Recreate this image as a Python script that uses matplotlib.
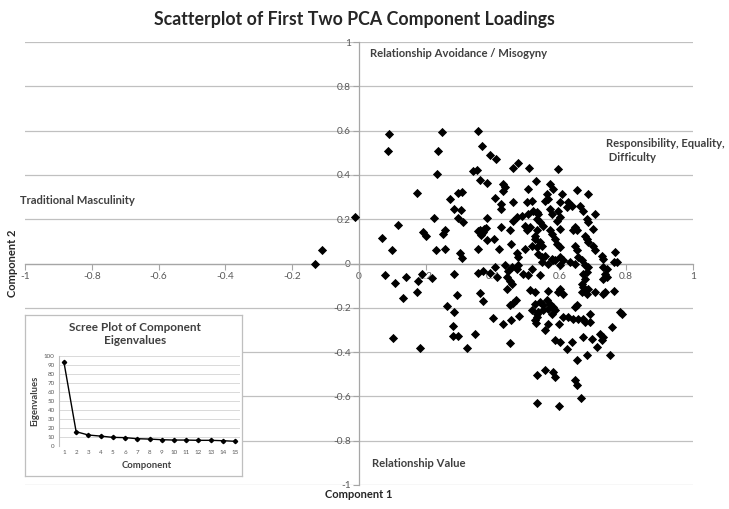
import matplotlib
matplotlib.use("Agg")
import matplotlib.pyplot as plt

plt.rcParams['font.family'] = ['Lato', 'DejaVu Sans']

# ---------------- data ----------------
comp1 = [
    -0.132, -0.111, -0.012,
    0.091, 0.086, 0.118, 0.070, 0.098,
    0.078, 0.108, 0.141, 0.178, 0.188, 0.173, 0.131, 0.103, 0.183,
    0.173, 0.193, 0.201,
    0.248, 0.237, 0.234, 0.357, 0.367, 0.392, 0.409, 0.342, 0.354, 0.362, 0.384, 0.460, 0.477, 0.510,
    0.530, 0.430, 0.437, 0.432, 0.505, 0.297, 0.307, 0.272, 0.407, 0.424, 0.424, 0.462, 0.502, 0.517,
    0.285, 0.305, 0.225, 0.297, 0.312, 0.384, 0.462, 0.472, 0.487, 0.507, 0.522, 0.532, 0.257, 0.251,
    0.356, 0.362, 0.368, 0.374, 0.380, 0.365, 0.372, 0.424, 0.452, 0.497, 0.502, 0.512, 0.532, 0.527,
    0.382, 0.405, 0.455, 0.231, 0.257, 0.357, 0.419, 0.474, 0.477, 0.497, 0.517, 0.532, 0.302, 0.309,
    0.597, 0.572, 0.582, 0.652, 0.687, 0.562, 0.557, 0.567, 0.607, 0.602, 0.627, 0.637, 0.622, 0.662,
    0.672, 0.537, 0.532, 0.572, 0.577, 0.597, 0.602, 0.592, 0.707, 0.682, 0.687, 0.542, 0.552, 0.572,
    0.577, 0.602, 0.647, 0.652, 0.642, 0.702, 0.677, 0.682, 0.687, 0.527, 0.542, 0.547, 0.587, 0.592,
    0.602, 0.647, 0.652, 0.702, 0.707, 0.727, 0.732, 0.766, 0.772, 0.537, 0.547, 0.557, 0.577, 0.587,
    0.602, 0.612, 0.657, 0.667, 0.632,
    0.218, 0.283, 0.357, 0.372, 0.392, 0.407, 0.412, 0.437, 0.447, 0.457, 0.472, 0.477, 0.442, 0.452,
    0.457, 0.442, 0.492, 0.507, 0.517, 0.512, 0.527, 0.292, 0.362, 0.372, 0.452, 0.462, 0.470, 0.264,
    0.283, 0.402, 0.432, 0.455, 0.480, 0.517, 0.532, 0.530, 0.280, 0.280, 0.297, 0.347, 0.324, 0.452,
    0.532, 0.532,
    0.547, 0.567, 0.582, 0.602, 0.647, 0.677, 0.687, 0.732, 0.742, 0.762, 0.542, 0.672, 0.677, 0.682,
    0.737, 0.742, 0.732, 0.602, 0.612, 0.597, 0.567, 0.667, 0.672, 0.677, 0.687, 0.667, 0.682, 0.707,
    0.732, 0.737, 0.762, 0.527, 0.542, 0.552, 0.562, 0.572, 0.582, 0.587, 0.567, 0.552, 0.537, 0.577,
    0.527, 0.532, 0.647, 0.652, 0.612, 0.627, 0.642, 0.657, 0.672, 0.677, 0.692, 0.692, 0.781, 0.787,
    0.567, 0.599, 0.757, 0.722, 0.732, 0.727, 0.587, 0.602, 0.637, 0.622, 0.672, 0.697, 0.712, 0.751,
    0.684, 0.654, 0.557, 0.582, 0.587, 0.647, 0.652, 0.664, 0.599, 0.557,
]
comp2 = [
    0.000, 0.063, 0.209,
    0.584, 0.509, 0.176, 0.114, 0.060,
    -0.051, -0.089, -0.059, -0.077, -0.047, -0.129, -0.156, -0.335, -0.380,
    0.318, 0.141, 0.122,
    0.595, 0.506, 0.404, 0.599, 0.532, 0.490, 0.472, 0.416, 0.422, 0.378, 0.362, 0.429, 0.454, 0.429,
    0.371, 0.359, 0.344, 0.329, 0.336, 0.317, 0.321, 0.291, 0.296, 0.269, 0.246, 0.279, 0.276, 0.284,
    0.246, 0.242, 0.204, 0.204, 0.186, 0.204, 0.194, 0.212, 0.216, 0.224, 0.239, 0.231, 0.152, 0.134,
    0.148, 0.150, 0.138, 0.155, 0.162, 0.128, 0.140, 0.167, 0.149, 0.171, 0.149, 0.164, 0.149, 0.126,
    0.108, 0.111, 0.086, 0.063, 0.066, 0.066, 0.066, 0.046, 0.028, 0.066, 0.081, 0.073, 0.046, 0.026,
    0.426, 0.359, 0.336, 0.332, 0.314, 0.314, 0.284, 0.291, 0.314, 0.276, 0.276, 0.261, 0.254, 0.261,
    0.239, 0.224, 0.201, 0.246, 0.224, 0.239, 0.209, 0.194, 0.224, 0.201, 0.186, 0.186, 0.171, 0.149,
    0.134, 0.156, 0.164, 0.149, 0.152, 0.156, 0.126, 0.111, 0.096, 0.111, 0.096, 0.081, 0.111, 0.089,
    0.073, 0.081, 0.059, 0.077, 0.059, 0.036, 0.021, 0.051, 0.006, 0.044, 0.028, 0.036, 0.021, 0.014,
    0.028, 0.014, 0.028, 0.014, 0.006,
    -0.065, -0.047, -0.044, -0.032, -0.044, -0.014, -0.059, -0.009, -0.032, -0.017, -0.024, -0.009, -0.062, -0.080,
    -0.092, -0.114, -0.047, -0.054, -0.024, -0.119, -0.129, -0.140, -0.134, -0.170, -0.189, -0.179, -0.167, -0.194,
    -0.219, -0.245, -0.272, -0.254, -0.239, -0.209, -0.227, -0.269, -0.282, -0.329, -0.326, -0.320, -0.380, -0.359,
    -0.502, -0.632,
    0.006, -0.002, 0.014, -0.009, -0.002, -0.009, -0.017, -0.017, -0.024, 0.006, -0.054, -0.047, -0.069, -0.039,
    -0.047, -0.062, -0.069, -0.114, -0.137, -0.129, -0.122, -0.092, -0.107, -0.122, -0.114, -0.129, -0.137, -0.129,
    -0.137, -0.129, -0.125, -0.182, -0.174, -0.189, -0.167, -0.182, -0.197, -0.212, -0.204, -0.212, -0.219, -0.227,
    -0.257, -0.242, -0.197, -0.189, -0.242, -0.242, -0.249, -0.249, -0.249, -0.264, -0.264, -0.227, -0.219, -0.227,
    -0.272, -0.272, -0.287, -0.317, -0.332, -0.347, -0.347, -0.354, -0.354, -0.384, -0.332, -0.339, -0.377, -0.414,
    -0.411, -0.434, -0.482, -0.489, -0.512, -0.527, -0.549, -0.605, -0.644, -0.300,
]

x_ticks = [-1, -0.8, -0.6, -0.4, -0.2, 0, 0.2, 0.4, 0.6, 0.8, 1]
x_tick_labels = ['-1', '-0.8', '-0.6', '-0.4', '-0.2', '0', '0.2', '0.4', '0.6', '0.8', '1']
y_ticks = [-1, -0.8, -0.6, -0.4, -0.2, 0, 0.2, 0.4, 0.6, 0.8, 1]
y_tick_labels = ['-1', '-0.8', '-0.6', '-0.4', '-0.2', '0', '0.2', '0.4', '0.6', '0.8', '1']

scree_components = list(range(1, 16))
scree_eigenvalues = [93.4, 15.9, 12.2, 11.0, 9.6, 9.3, 8.1, 7.7, 7.0, 6.6, 6.6, 6.3, 6.3, 5.9, 5.2]

title = 'Scatterplot of First Two PCA Component Loadings'
quadrant_labels = [
    ('Relationship Avoidance / Misogyny', 0.033, 0.946),
    ('Responsibility, Equality,\n Difficulty', 0.740, 0.510),
    ('Traditional Masculinity', -1.015, 0.284),
    ('Relationship Value', 0.039, -0.905),
]

# ---------------- figure ----------------
W, H = 729, 509
fig = plt.figure(figsize=(W / 100, H / 100), dpi=100)
fig.patch.set_facecolor('white')

def fx(px):
    return px / W

def fy(py):
    return 1 - py / H

axl, axr, axt, axb = 25, 693, 42, 485
ax = fig.add_axes([fx(axl), fy(axb), fx(axr - axl), (axb - axt) / H])
ax.set_xlim(-1, 1)
ax.set_ylim(-1, 1)
ax.set_facecolor('none')

for s in ['top', 'right']:
    ax.spines[s].set_visible(False)
ax.spines['left'].set_position(('data', 0))
ax.spines['bottom'].set_position(('data', 0))
for s in ['left', 'bottom']:
    ax.spines[s].set_color('#a6a6a6')
    ax.spines[s].set_linewidth(0.9)

ax.set_xticks(x_ticks)
ax.set_xticklabels(x_tick_labels)
ax.set_yticks(y_ticks)
ax.set_yticklabels(y_tick_labels)
ax.tick_params(axis='both', direction='out', length=4, width=0.8, color='#a6a6a6',
               labelsize=7.3, labelcolor='#595959', pad=2)
ax.yaxis.grid(True, color='#c0c0c0', linewidth=0.9)
ax.set_axisbelow(True)

ax.scatter(comp1, comp2, marker='D', s=22, color='black', linewidths=0, zorder=3)

for txt, x, y in quadrant_labels:
    ax.text(x, y, txt, fontsize=8.1, fontweight='bold', color='#404040',
            ha='left', va='center', linespacing=1.3)

fig.text(fx(354), fy(19), title, fontsize=12.8, fontweight='bold', color='#262626',
         ha='center', va='center')
fig.text(fx(13), fy(263), 'Component 2', rotation=90, fontsize=8, fontweight='bold',
         color='#262626', ha='center', va='center')
fig.text(fx(359), fy(495), 'Component 1', fontsize=8, fontweight='bold',
         color='#262626', ha='center', va='center')

# ---------------- inset scree plot ----------------
bl, br, bt, bb = 25, 242, 315, 476
box = fig.add_axes([fx(bl), fy(bb), fx(br - bl), (bb - bt) / H], zorder=2)
box.set_facecolor('white')
box.set_xticks([])
box.set_yticks([])
for s in box.spines.values():
    s.set_color('#bfbfbf')
    s.set_linewidth(0.9)

il, ir, it, ib = 59, 240, 356, 446
ins = fig.add_axes([fx(il), fy(ib), fx(ir - il), (ib - it) / H], zorder=3)
ins.set_facecolor('none')
ins.plot(scree_components, scree_eigenvalues, color='black', linewidth=1.0,
         marker='D', markersize=2.2)
ins.set_xlim(0.6, 15.4)
ins.set_ylim(0, 100)
ins.set_xticks(scree_components)
ins.set_yticks(range(0, 101, 10))
ins.tick_params(axis='both', length=0, labelsize=4.5, labelcolor='#595959', pad=3)
ins.yaxis.grid(True, color='#d9d9d9', linewidth=0.7)
ins.set_axisbelow(True)
for s in ['top', 'right', 'bottom']:
    ins.spines[s].set_visible(False)
ins.spines['left'].set_color('#bfbfbf')
ins.spines['left'].set_linewidth(0.8)
fig.text(fx(135), fy(334), 'Scree Plot of Component\nEigenvalues', fontsize=8.5,
         fontweight='bold', color='#404040', ha='center', va='center', linespacing=1.2,
         zorder=4)
fig.text(fx(147), fy(466), 'Component', fontsize=6.8, fontweight='bold', color='#404040',
         ha='center', va='center', zorder=4)
fig.text(fx(35), fy(401), 'Eigenvalues', rotation=90, fontsize=6.8, fontweight='bold',
         color='#404040', ha='center', va='center', zorder=4)

fig.savefig('out.png', dpi=100, facecolor='white')
